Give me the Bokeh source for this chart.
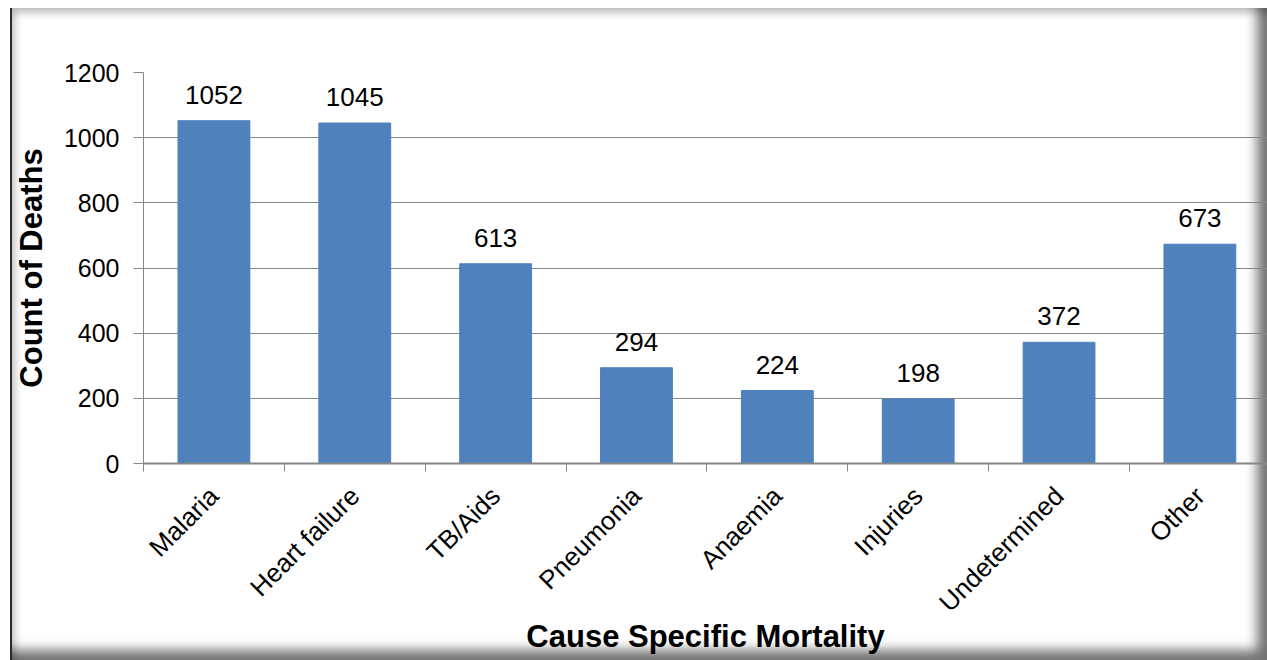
import math
from bokeh.plotting import figure
from bokeh.models import ColumnDataSource, Range1d, FixedTicker
from bokeh.core.properties import value
from bokeh.embed import file_html
from bokeh.resources import INLINE

categories = ["Malaria", "Heart failure", "TB/Aids", "Pneumonia", "Anaemia",
              "Injuries", "Undetermined", "Other"]
deaths = [1052, 1045, 613, 294, 224, 198, 372, 673]
y_ticks = [0, 200, 400, 600, 800, 1000, 1200]
x_title = "Cause Specific Mortality"
y_title = "Count of Deaths"

FONT = "Liberation Sans"
BAR = "#4F81BD"
GRID = "#868686"

centers = [i + 0.5 for i in range(len(categories))]
src = ColumnDataSource(dict(x=centers, top=deaths, lab=[str(v) for v in deaths]))

W, H = 1267, 660
p = figure(width=W, height=H, output_backend="svg", toolbar_location=None,
           x_range=Range1d(0, 7.98), y_range=Range1d(0, 1200),
           min_border_left=143, min_border_right=0, min_border_top=72,
           min_border_bottom=197)

p.vbar(x="x", top="top", width=0.51, bottom=0, source=src, color=BAR)
p.text(x="x", y="top", text="lab", source=src, text_align="center",
       text_baseline="alphabetic", y_offset=-26, text_font=value(FONT),
       text_font_size="26px", text_color="black")

p.border_fill_color = None
p.background_fill_color = None
p.outline_line_color = None
p.styles = {
    "background": "white",
    "box-shadow": ("inset 10px 8px 0px 0px white, "
                   "inset 12px 0px 0px 0px #2a2a2a, "
                   "inset 20px 18px 10px -6px rgba(0,0,0,0.30), "
                   "inset -14px -14px 12px -4px rgba(0,0,0,0.55)"),
}

# grid
p.xgrid.grid_line_color = None
p.ygrid.grid_line_color = GRID
p.ygrid.grid_line_width = 1
p.ygrid.ticker = FixedTicker(ticks=y_ticks)

# y axis
ya = p.yaxis[0]
ya.ticker = FixedTicker(ticks=y_ticks)
ya.axis_line_color = GRID
ya.major_tick_line_color = GRID
ya.major_tick_out = 10
ya.major_tick_in = 0
ya.minor_tick_line_color = None
ya.major_label_text_font = FONT
ya.major_label_text_font_size = "25px"
ya.major_label_text_color = "black"
ya.major_label_standoff = 14
ya.axis_label = y_title
ya.axis_label_text_font = FONT
ya.axis_label_text_font_size = "31px"
ya.axis_label_text_font_style = "bold"
ya.axis_label_text_color = "black"
ya.axis_label_standoff = 12

# x axis
xa = p.xaxis[0]
xa.ticker = FixedTicker(ticks=centers, minor_ticks=list(range(len(categories) + 1)))
xa.major_label_overrides = {c: lab for c, lab in zip(centers, categories)}
xa.axis_line_color = GRID
xa.axis_line_width = 2
xa.major_tick_line_color = None
xa.major_tick_out = 0
xa.major_tick_in = 0
xa.minor_tick_line_color = GRID
xa.minor_tick_out = 8
xa.minor_tick_in = 0
xa.major_label_orientation = math.pi / 4
xa.major_label_text_font = FONT
xa.major_label_text_font_size = "26px"
xa.major_label_text_color = "black"
xa.major_label_standoff = 20
xa.axis_label = x_title
xa.axis_label_text_font = FONT
xa.axis_label_text_font_size = "31px"
xa.axis_label_text_font_style = "bold"
xa.axis_label_text_color = "black"
xa.axis_label_standoff = -12

open("out.html", "w").write(file_html(p, INLINE))
